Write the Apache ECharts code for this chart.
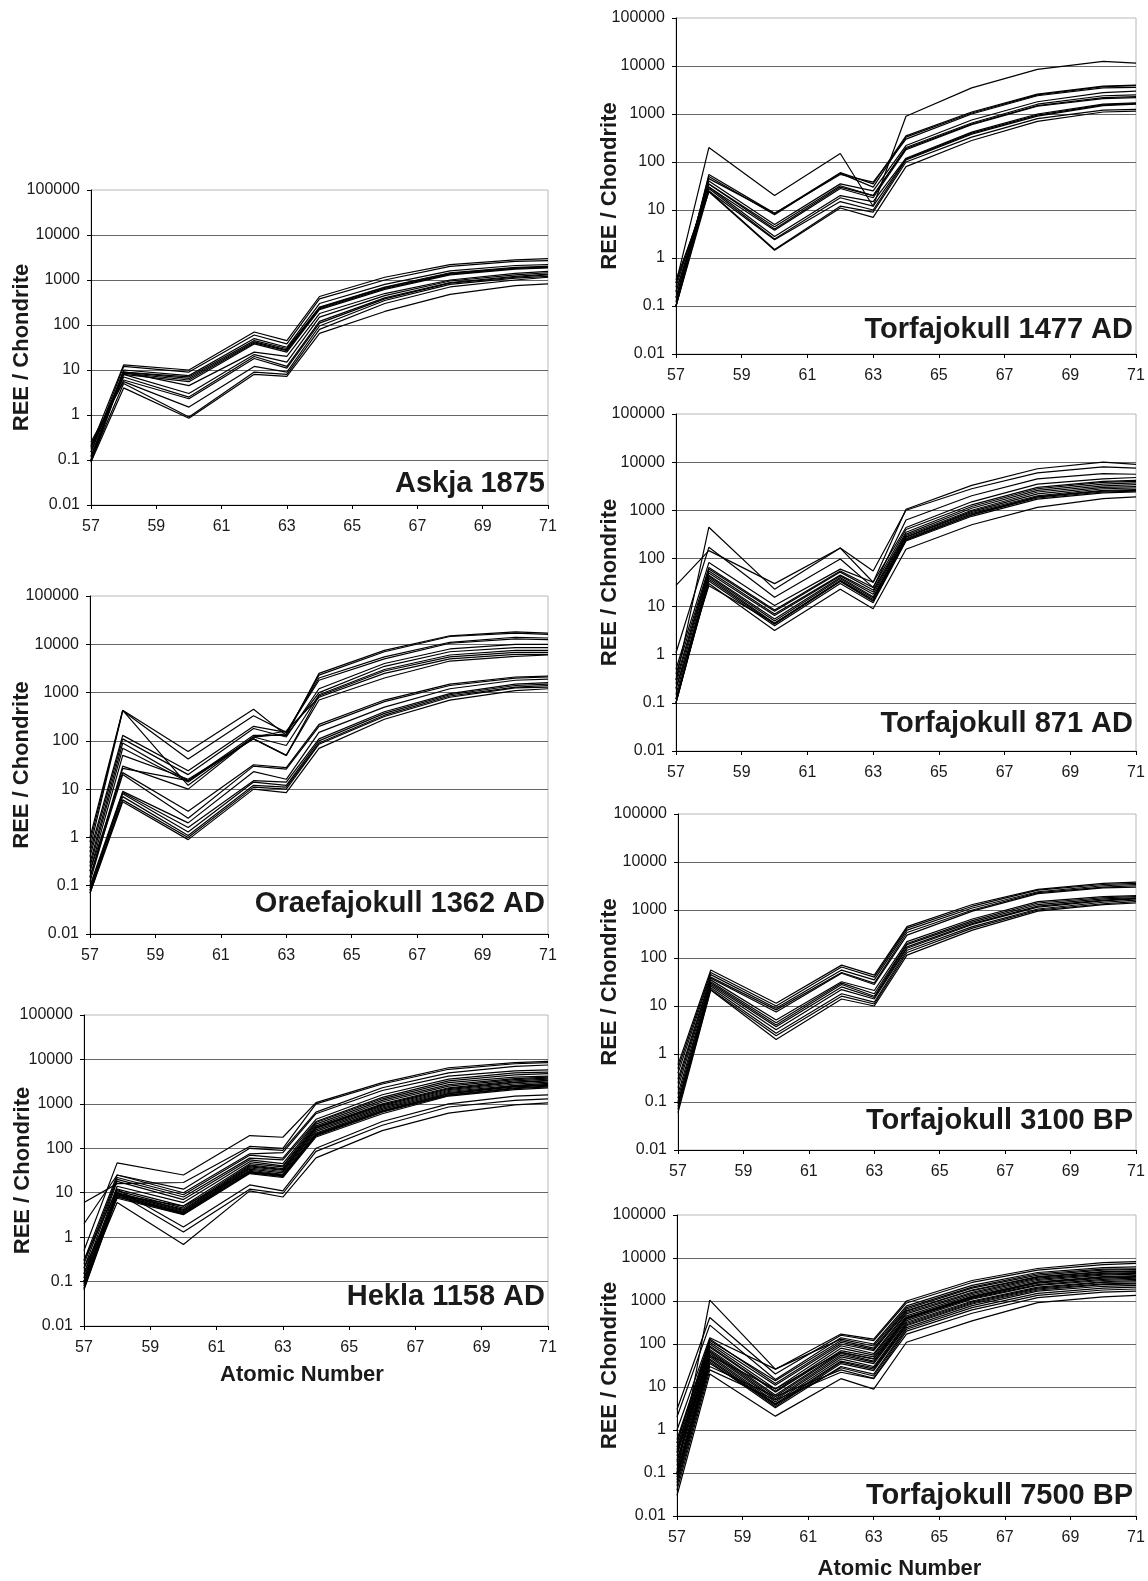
<!DOCTYPE html>
<html>
<head>
<meta charset="utf-8">
<title>REE / Chondrite profiles</title>
<script src="https://cdn.jsdelivr.net/npm/echarts@6/dist/echarts.min.js"></script>
<style>
  html, body { margin: 0; padding: 0; background: #ffffff; }
  #chart { width: 1148px; height: 1581px; }
</style>
</head>
<body>
<div id="chart"></div>
<script>
// Rare earth elements sampled in every profile (La, Ce, Nd, Sm, Eu, Gd, Dy, Er, Yb, Lu)
const atomicNumbers = [57, 58, 60, 62, 63, 64, 66, 68, 70, 71];
const xTickLabels = [57, 59, 61, 63, 65, 67, 69, 71];
const yTickLabels = [0.01, 0.1, 1, 10, 100, 1000, 10000, 100000];

// Chondrite-normalised values, one row per analysed shard
const askja1875 = [
  [0.2, 13, 10, 70, 45, 430, 1150, 2200, 2800, 3000],
  [0.15, 12, 9, 60, 38, 380, 1000, 2000, 2600, 2700],
  [0.12, 10, 7.5, 50, 32, 300, 800, 1600, 2100, 2200],
  [0.1, 9, 7, 45, 30, 250, 700, 1450, 1900, 2000],
  [0.1, 9, 6.5, 42, 28, 240, 680, 1400, 1850, 1950],
  [0.09, 8.5, 6, 40, 27, 230, 650, 1350, 1800, 1900],
  [0.12, 8, 5.5, 38, 25, 220, 620, 1300, 1750, 1850],
  [0.15, 9, 4.5, 25, 20, 180, 500, 1000, 1400, 1550],
  [0.18, 8, 3, 22, 15, 150, 450, 950, 1300, 1450],
  [0.2, 7, 2.5, 20, 12, 120, 400, 880, 1200, 1350],
  [0.22, 6, 2.3, 18, 11, 110, 380, 850, 1150, 1300],
  [0.25, 5.5, 1.5, 12, 9, 95, 350, 800, 1100, 1200],
  [0.1, 5, 0.9, 9, 8, 80, 300, 700, 1000, 1150],
  [0.09, 4, 0.85, 8, 7.2, 65, 200, 480, 750, 820]
];

const oraefajokull1362 = [
  [1.0, 430, 60, 450, 130, 2500, 7500, 15000, 18000, 17000],
  [0.8, 430, 12, 120, 140, 2300, 7000, 14500, 17000, 16000],
  [0.6, 420, 42, 330, 150, 2000, 5500, 11000, 14000, 13500],
  [0.5, 130, 24, 200, 150, 1800, 5000, 10500, 13000, 12500],
  [0.4, 110, 20, 180, 120, 1200, 4000, 8000, 10000, 10000],
  [0.3, 90, 15, 130, 130, 1000, 3500, 7000, 8500, 8500],
  [0.25, 70, 14, 120, 80, 900, 3000, 6000, 7500, 7500],
  [0.2, 50, 16, 110, 50, 850, 2800, 5500, 6800, 6800],
  [0.15, 30, 10, 120, 160, 800, 2500, 5000, 6200, 6200],
  [0.12, 27, 15, 110, 50, 700, 2000, 4500, 5600, 6000],
  [0.2, 22, 3.5, 32, 28, 220, 700, 1500, 2100, 2200],
  [0.15, 20, 2.5, 30, 26, 200, 650, 1400, 2000, 2100],
  [0.1, 9, 2, 23, 16, 150, 500, 1200, 1800, 1900],
  [0.09, 8.5, 1.6, 15, 14, 110, 400, 950, 1500, 1600],
  [0.08, 8, 1.3, 14, 12, 100, 370, 900, 1400, 1500],
  [0.07, 7, 1.1, 12, 11, 90, 340, 850, 1300, 1400],
  [0.08, 6, 1.0, 11, 10, 85, 320, 800, 1250, 1300],
  [0.07, 5.5, 0.9, 10, 8.5, 70, 280, 700, 1100, 1200]
];

const hekla1158 = [
  [0.5, 47, 25, 193, 177, 1070, 3000, 6500, 8500, 9000],
  [6, 16, 17, 110, 100, 1000, 2800, 6000, 8000, 8500],
  [2, 25, 12, 100, 90, 650, 2300, 5000, 7000, 7500],
  [0.3, 25, 10, 75, 80, 600, 2000, 4200, 5500, 5800],
  [0.25, 22, 9, 70, 60, 450, 1600, 3600, 5000, 5200],
  [0.2, 20, 8, 60, 55, 400, 1400, 3300, 4500, 4800],
  [0.15, 18, 7, 55, 45, 380, 1300, 3000, 4000, 4200],
  [0.12, 14, 6, 50, 40, 350, 1200, 2700, 3700, 4000],
  [0.1, 12, 5, 45, 38, 320, 1100, 2500, 3500, 3800],
  [0.1, 11, 4.5, 42, 35, 300, 1000, 2300, 3300, 3600],
  [0.09, 10, 4.2, 40, 33, 290, 950, 2200, 3100, 3400],
  [0.09, 10, 4, 38, 32, 280, 900, 2100, 3000, 3300],
  [0.08, 9.5, 3.8, 36, 30, 260, 850, 2000, 2800, 3100],
  [0.08, 9, 3.6, 34, 28, 240, 800, 1900, 2600, 2900],
  [0.07, 9, 3.5, 32, 26, 220, 750, 1800, 2500, 2700],
  [0.07, 8.5, 3.4, 30, 25, 210, 700, 1700, 2400, 2600],
  [0.065, 8, 3.3, 29, 24, 200, 680, 1600, 2300, 2500],
  [0.1, 8, 3.5, 28, 23, 190, 650, 1550, 2200, 2400],
  [0.2, 7.5, 3.2, 27, 22, 180, 600, 1500, 2100, 2300],
  [0.12, 9, 5, 30, 25, 200, 700, 1700, 2500, 2700],
  [0.3, 12, 1.7, 15, 11, 100, 400, 1000, 1500, 1600],
  [0.15, 10, 1.3, 12, 9.6, 85, 330, 850, 1200, 1300],
  [0.1, 6, 0.68, 11, 8, 61, 250, 620, 950, 1050]
];

const torfajokull1477 = [
  [0.3, 200, 20, 150, 12, 900, 3500, 8500, 12500, 11500],
  [0.1, 55, 8.5, 60, 35, 350, 1100, 2600, 3800, 4000],
  [0.12, 50, 8, 58, 30, 330, 1050, 2500, 3700, 3900],
  [0.15, 45, 8.5, 55, 38, 300, 1000, 2400, 3500, 3600],
  [0.1, 40, 5, 35, 25, 220, 750, 1800, 2800, 3000],
  [0.2, 35, 4.5, 32, 20, 200, 650, 1600, 2400, 2500],
  [0.25, 35, 4, 30, 20, 190, 620, 1500, 2200, 2300],
  [0.15, 30, 3.8, 28, 18, 180, 600, 1450, 2100, 2200],
  [0.1, 30, 2.8, 20, 15, 120, 420, 1000, 1600, 1700],
  [0.3, 28, 2.5, 18, 12, 115, 400, 950, 1550, 1650],
  [0.35, 25, 2.4, 15, 10, 110, 380, 900, 1500, 1600],
  [0.1, 25, 1.5, 12, 9, 100, 330, 800, 1200, 1250],
  [0.2, 24, 1.45, 11, 7, 80, 280, 700, 1100, 1150]
];

const torfajokull871 = [
  [0.3, 445, 23, 164, 32, 1050, 3300, 7300, 10000, 9000],
  [27.5, 145, 30, 164, 55, 1000, 2800, 6000, 8000, 7500],
  [1.1, 170, 15.6, 97, 25, 630, 2000, 4500, 5800, 5600],
  [0.5, 82, 10.5, 60, 32, 440, 1500, 3500, 4500, 4800],
  [0.4, 65, 8.5, 55, 25, 400, 1300, 3000, 4000, 4200],
  [0.3, 60, 8, 52, 22, 350, 1200, 2800, 3800, 4000],
  [0.25, 55, 7, 45, 20, 320, 1100, 2600, 3500, 3700],
  [0.2, 50, 6.5, 43, 18, 300, 1000, 2400, 3200, 3400],
  [0.15, 45, 5.5, 40, 16, 280, 950, 2200, 3000, 3100],
  [0.12, 43, 5, 38, 15, 275, 900, 2000, 2800, 2900],
  [0.1, 40, 4.5, 35, 14, 260, 850, 1900, 2600, 2700],
  [0.1, 37, 4.3, 33, 13, 240, 800, 1800, 2400, 2500],
  [0.1, 34, 4, 30, 12, 230, 750, 1700, 2300, 2400],
  [0.2, 27, 4.5, 34, 13, 250, 800, 1900, 2500, 2600],
  [0.12, 30, 3.2, 23, 9, 155, 500, 1150, 1750, 1900]
];

const torfajokull3100 = [
  [0.6, 56, 11.4, 71, 44, 450, 1300, 2700, 3600, 3800],
  [0.5, 50, 10, 65, 40, 420, 1200, 2600, 3400, 3600],
  [0.4, 45, 9, 56, 35, 380, 1100, 2400, 3200, 3400],
  [0.3, 40, 8.3, 50, 30, 340, 1000, 2300, 3000, 3200],
  [0.25, 38, 7.5, 48, 28, 300, 950, 2200, 2900, 3000],
  [0.2, 35, 5.1, 32, 21, 220, 650, 1500, 1900, 2000],
  [0.15, 32, 4.5, 30, 18, 200, 600, 1400, 1800, 1900],
  [0.12, 30, 4, 28, 16, 190, 560, 1300, 1700, 1800],
  [0.1, 28, 3.7, 25, 15, 170, 520, 1200, 1600, 1750],
  [0.09, 26, 3.2, 22, 14, 160, 500, 1150, 1550, 1700],
  [0.08, 24, 2.7, 18, 12, 145, 450, 1050, 1450, 1600],
  [0.07, 22, 2.4, 16, 11, 130, 420, 1000, 1350, 1500],
  [0.06, 21.5, 2, 14, 10, 115, 380, 950, 1300, 1400]
];

const torfajokull7500 = [
  [0.1, 1050, 26, 170, 130, 1000, 3000, 5700, 7800, 8200],
  [3, 412, 20, 160, 120, 900, 2700, 5200, 7000, 7500],
  [2, 275, 15, 140, 100, 770, 2300, 4600, 6000, 6200],
  [1, 140, 26, 130, 90, 700, 2100, 4300, 5500, 5600],
  [0.6, 120, 14, 120, 80, 650, 2000, 4000, 5200, 5400],
  [0.5, 130, 12, 110, 75, 580, 1750, 3600, 4700, 4900],
  [0.5, 110, 11, 100, 70, 600, 1800, 3700, 4800, 5000],
  [0.4, 100, 9, 91, 60, 540, 1600, 3400, 4400, 4600],
  [0.35, 90, 8, 80, 55, 500, 1500, 3200, 4200, 4400],
  [0.3, 84, 7.6, 70, 50, 450, 1400, 3000, 4000, 4200],
  [0.25, 75, 6.5, 64, 45, 420, 1300, 2800, 3700, 3900],
  [0.3, 54, 9, 64, 45, 400, 1250, 2700, 3600, 3700],
  [0.2, 70, 6, 60, 40, 400, 1200, 2600, 3400, 3600],
  [0.18, 65, 5.4, 55, 38, 380, 1150, 2400, 3200, 3400],
  [0.15, 60, 5, 50, 35, 350, 1100, 2300, 3000, 3200],
  [0.12, 54, 4.5, 45, 30, 320, 1000, 2100, 2800, 3000],
  [0.1, 50, 4.1, 40, 28, 300, 950, 2000, 2700, 2800],
  [0.09, 45, 3.8, 38, 26, 280, 900, 1900, 2500, 2600],
  [0.08, 42, 3.5, 35, 24, 265, 850, 1800, 2400, 2500],
  [0.07, 38, 3.3, 30, 20, 240, 780, 1700, 2200, 2300],
  [0.06, 35, 4, 28, 18, 220, 700, 1500, 2000, 2100],
  [0.05, 30, 6, 25, 16, 200, 620, 1350, 1800, 1900],
  [0.04, 25, 5, 22, 15.6, 170, 520, 1200, 1600, 1700],
  [0.03, 20, 2.1, 15.6, 8.9, 110, 345, 920, 1250, 1350]
];

const panelTitles = [
  'Askja 1875', 'Oraefajokull 1362 AD', 'Hekla 1158 AD',
  'Torfajokull 1477 AD', 'Torfajokull 871 AD', 'Torfajokull 3100 BP', 'Torfajokull 7500 BP'
];
const panelProfiles = [
  askja1875, oraefajokull1362, hekla1158,
  torfajokull1477, torfajokull871, torfajokull3100, torfajokull7500
];
const yAxisTitle = 'REE / Chondrite';
const xAxisTitle = 'Atomic Number';
const xTitledPanels = [2, 6];

// Plot frames in pixels: left column first, then right column
const frames = [
  { left: 91,  top: 190,  width: 457, height: 315, titleDy: 21, yNameGap: 58, xNameGap: 38, xNameShift: 0 },
  { left: 90,  top: 596,  width: 458, height: 338, titleDy: 30, yNameGap: 57, xNameGap: 38, xNameShift: 0 },
  { left: 84,  top: 1015, width: 464, height: 311, titleDy: 29, yNameGap: 50, xNameGap: 38, xNameShift: 28 },
  { left: 676, top: 18,   width: 460, height: 336, titleDy: 24, yNameGap: 55, xNameGap: 38, xNameShift: 0 },
  { left: 676, top: 414,  width: 460, height: 337, titleDy: 27, yNameGap: 55, xNameGap: 38, xNameShift: 0 },
  { left: 678, top: 814,  width: 458, height: 336, titleDy: 29, yNameGap: 57, xNameGap: 38, xNameShift: 0 },
  { left: 677, top: 1215, width: 459, height: 308, titleDy: 27, yNameGap: 56, xNameGap: 42, xNameShift: 14 }
];

const FONT = '"Liberation Sans", Arial, Helvetica, sans-serif';
const INK = '#1a1a1a';
const tickFont = { fontFamily: FONT, fontSize: 16, color: INK };
const nameFont = { fontFamily: FONT, fontSize: 22, fontWeight: 'bold', color: INK };

function formatDecade(v) {
  const match = yTickLabels.find(t => Math.abs(Math.log10(t) - Math.log10(v)) < 1e-6);
  return match !== undefined ? String(match) : '';
}

const grids = [], xAxes = [], yAxes = [], series = [], graphics = [];

frames.forEach((f, i) => {
  grids.push({
    left: f.left, top: f.top, width: f.width, height: f.height,
    containLabel: false,
    show: true, borderColor: '#b8b8b8', borderWidth: 1, backgroundColor: 'transparent'
  });

  const xNamed = xTitledPanels.includes(i);
  xAxes.push({
    gridIndex: i, type: 'value', min: 57, max: 71,
    axisLine: { show: true, onZero: false, lineStyle: { color: '#000', width: 1 } },
    axisTick: { show: true, inside: false, length: 4, customValues: xTickLabels, lineStyle: { color: '#000' } },
    axisLabel: { show: true, margin: 14, customValues: xTickLabels, ...tickFont },
    splitLine: { show: false },
    name: xNamed ? xAxisTitle : '',
    nameLocation: 'middle',
    nameGap: f.xNameGap,
    nameMoveOverlap: false,
    nameTextStyle: xNamed ? { ...nameFont, padding: [0, f.xNameShift, 0, 0] } : {}
  });

  yAxes.push({
    gridIndex: i, type: 'log', logBase: 10, min: 0.01, max: 100000, splitNumber: 7,
    axisLine: { show: true, lineStyle: { color: '#000', width: 1 } },
    axisTick: { show: true, inside: false, length: 4, lineStyle: { color: '#000' } },
    axisLabel: { show: true, margin: 11, formatter: formatDecade, ...tickFont },
    splitLine: { show: true, showMinLine: false, showMaxLine: false, lineStyle: { color: '#666666', width: 1 } },
    minorTick: { show: false },
    name: yAxisTitle,
    nameLocation: 'middle',
    nameRotate: 90,
    nameGap: f.yNameGap,
    nameMoveOverlap: false,
    nameTextStyle: nameFont
  });

  panelProfiles[i].forEach((profile, k) => {
    series.push({
      type: 'line',
      name: panelTitles[i] + ' #' + (k + 1),
      xAxisIndex: i, yAxisIndex: i,
      data: atomicNumbers.map((z, j) => [z, profile[j]]),
      symbol: 'none', showSymbol: false,
      lineStyle: { color: '#000', width: 1.2 },
      silent: true, animation: false, z: 3
    });
  });

  graphics.push({
    type: 'text',
    x: f.left + f.width - 3,
    y: f.top + f.height - f.titleDy,
    z: 10,
    style: {
      text: panelTitles[i],
      font: 'bold 29px ' + FONT,
      fill: INK,
      align: 'right', verticalAlign: 'middle',
      textAlign: 'right', textVerticalAlign: 'middle'
    }
  });
});

const chart = echarts.init(document.getElementById('chart'), null, { renderer: 'canvas' });
chart.setOption({
  backgroundColor: '#ffffff',
  animation: false,
  grid: grids,
  xAxis: xAxes,
  yAxis: yAxes,
  series: series,
  graphic: graphics
});
</script>
</body>
</html>
